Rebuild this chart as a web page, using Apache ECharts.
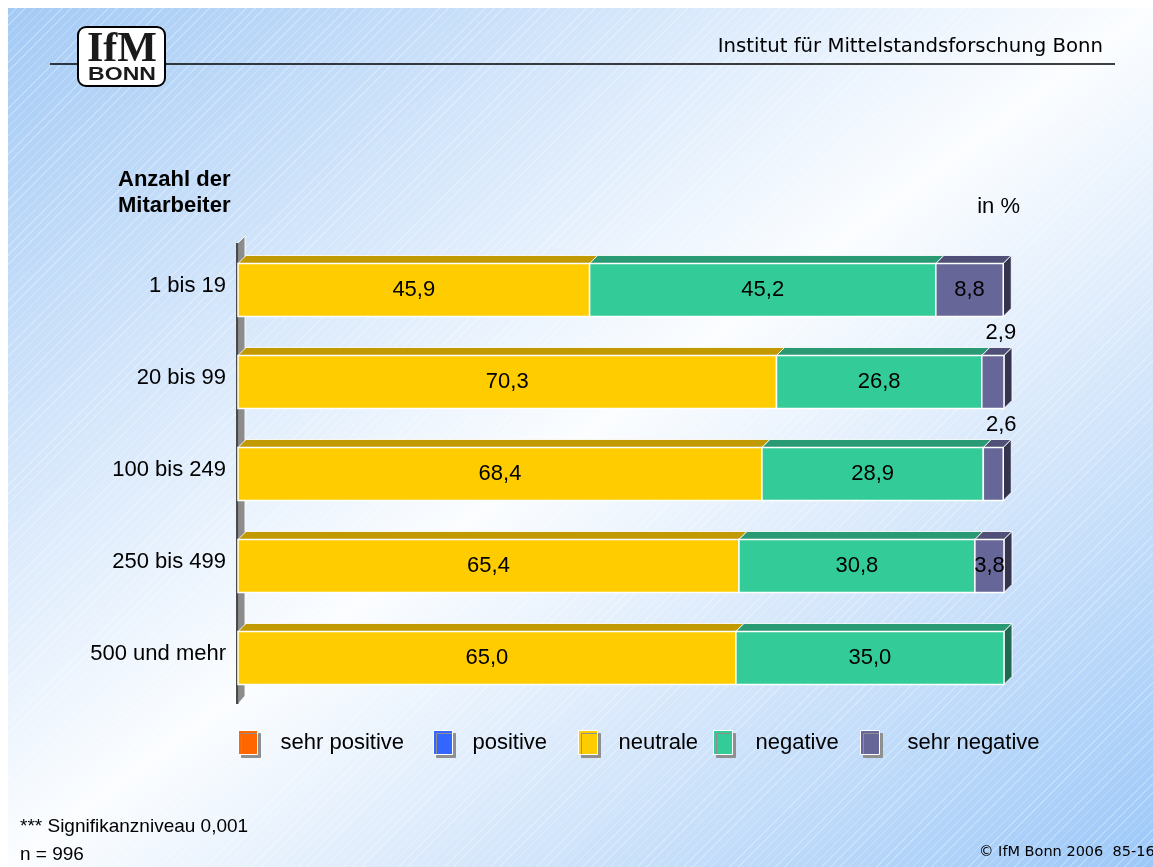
<!DOCTYPE html>
<html>
<head>
<meta charset="utf-8">
<script src="https://cdn.jsdelivr.net/npm/echarts@6/dist/echarts.min.js"></script>
<style>
  html, body { margin: 0; padding: 0; background: #ffffff; }
  #bg {
    position: absolute; left: 8px; top: 8px; width: 1145px; height: 859px;
    background:
      repeating-linear-gradient(135deg, rgba(255,255,255,0) 0px, rgba(255,255,255,0) 5.5px, rgba(255,255,255,0.28) 5.5px, rgba(255,255,255,0.28) 6.5px),
      linear-gradient(to bottom right, #a3caf5 0%, #d6e7fb 28%, #fbfdff 50%, #d6e7fb 70%, #9cc8f8 100%);
  }
  #chart { position: absolute; left: 0; top: 0; width: 1153px; height: 867px; }
</style>
</head>
<body>
<div id="bg"></div>
<div id="chart"></div>
<script>
// ---- data ----
const categories = ['1 bis 19', '20 bis 99', '100 bis 249', '250 bis 499', '500 und mehr'];
const seriesNames = ['sehr positive', 'positive', 'neutrale', 'negative', 'sehr negative'];
const sehrPositive = [0, 0, 0, 0, 0];
const positive = [0, 0, 0, 0, 0];
const neutrale = [45.9, 70.3, 68.4, 65.4, 65.0];
const negative = [45.2, 26.8, 28.9, 30.8, 35.0];
const sehrNegative = [8.8, 2.9, 2.6, 3.8, 0];
const valueArrays = [sehrPositive, positive, neutrale, negative, sehrNegative];

// ---- styles ----
const frontColors = ['#ff6600', '#3366ff', '#ffcc00', '#33cc99', '#666699'];
const topColors   = ['#c24d00', '#2650c0', '#c09a00', '#2a9a74', '#4f4f78'];
const sideColors  = ['#8a3700', '#1a3890', '#8a6e00', '#1f6b52', '#34344f'];
const legendPos = [
  {left: 238, pad: 18},
  {left: 433, pad: 15},
  {left: 578, pad: 16},
  {left: 713, pad: 18},
  {left: 860, pad: 23}
];

function fmt(v) { return v.toFixed(1).replace('.', ','); }

function buildData(si) {
  return categories.map(function (c, ci) {
    let start = 0;
    for (let k = 0; k < si; k++) start += valueArrays[k][ci];
    const v = valueArrays[si][ci];
    let last = 1;
    for (let k = si + 1; k < valueArrays.length; k++) if (valueArrays[k][ci] > 0) last = 0;
    return [start, start + v, ci, v, last];
  });
}

function makeRender(si) {
  return function (params, api) {
    const v = api.value(3);
    if (!(v > 0)) return null;
    const p0 = api.coord([api.value(0), api.value(2)]);
    const p1 = api.coord([api.value(1), api.value(2)]);
    const band = api.size([0, 1])[1];
    const h = band * 0.576;
    const d = band * 0.087;
    const x0 = p0[0], x1 = p1[0];
    const yT = p0[1] - h / 2, yB = p0[1] + h / 2;
    const children = [];
    children.push({
      type: 'polygon',
      shape: {points: [[x0, yT], [x0 + d, yT - d], [x1 + d, yT - d], [x1, yT]]},
      style: {fill: topColors[si], stroke: 'rgba(255,255,255,0.85)', lineWidth: 1}
    });
    if (api.value(4) === 1) {
      children.push({
        type: 'polygon',
        shape: {points: [[x1, yT], [x1 + d, yT - d], [x1 + d, yB - d], [x1, yB]]},
        style: {fill: sideColors[si], stroke: 'rgba(255,255,255,0.85)', lineWidth: 1}
      });
    }
    children.push({
      type: 'rect',
      shape: {x: x0, y: yT, width: x1 - x0, height: h},
      style: {fill: frontColors[si], stroke: '#ffffff', lineWidth: 1.5}
    });
    const small = v < 3;
    children.push({
      type: 'text',
      style: {
        text: fmt(v),
        x: small ? (x0 + x1) / 2 + d : (x0 + x1) / 2,
        y: small ? yT - d - 15 : p0[1],
        textAlign: 'center',
        textVerticalAlign: 'middle',
        fontFamily: 'Liberation Sans, Arial, sans-serif',
        fontSize: 22,
        fill: '#000'
      }
    });
    return {type: 'group', children: children};
  };
}

const series = [{
  type: 'custom',
  name: '__wall',
  silent: true,
  z: 1,
  data: [[0, 0]],
  encode: {x: 0, y: 1},
  renderItem: function (params, api) {
    const cs = params.coordSys;
    const x = cs.x, top = cs.y - 1, bot = cs.y + cs.height;
    return {
      type: 'group',
      children: [
        {type: 'polygon', shape: {points: [[x, top], [x + 7, top - 7], [x + 7, bot - 8], [x, bot]]},
         style: {fill: '#8c8c8c', stroke: 'rgba(255,255,255,0.9)', lineWidth: 1}},
        {type: 'rect', shape: {x: x - 2, y: top, width: 2.5, height: bot - top},
         style: {fill: '#4a4a4a'}}
      ]
    };
  }
}];

seriesNames.forEach(function (name, si) {
  series.push({
    type: 'custom',
    name: name,
    z: 2,
    itemStyle: {color: frontColors[si]},
    dimensions: ['start', 'end', 'cat', 'value', 'last'],
    encode: {x: [0, 1], y: 2},
    data: buildData(si),
    renderItem: makeRender(si)
  });
});

const legends = seriesNames.map(function (name, i) {
  return {
    data: [name],
    left: legendPos[i].left,
    top: 730,
    padding: 0,
    orient: 'horizontal',
    icon: 'rect',
    itemWidth: 19,
    itemHeight: 24,
    selectedMode: false,
    itemStyle: {borderColor: '#ffffff', borderWidth: 1, shadowColor: '#8f8f8f', shadowOffsetX: 3, shadowOffsetY: 3, shadowBlur: 0},
    textStyle: {
      fontFamily: 'Liberation Sans, Arial, sans-serif',
      fontSize: 22,
      color: '#000',
      padding: name === 'neutrale' ? [0, 0, 5, legendPos[i].pad] : [0, 0, 0, legendPos[i].pad]
    }
  };
});

const chart = echarts.init(document.getElementById('chart'), null, {renderer: 'canvas'});
chart.setOption({
  backgroundColor: 'transparent',
  animation: false,
  grid: {left: 238, right: 149, top: 244, height: 460},
  xAxis: {type: 'value', min: 0, max: 100, show: false},
  yAxis: {
    type: 'category',
    data: categories,
    inverse: true,
    axisLine: {show: false},
    axisTick: {show: false},
    splitLine: {show: false},
    axisLabel: {
      margin: 12,
      fontFamily: 'Liberation Sans, Arial, sans-serif',
      fontSize: 22,
      color: '#000',
      verticalAlign: 'bottom',
      lineHeight: 8
    }
  },
  legend: legends,
  series: series,
  graphic: [
    {type: 'line', shape: {x1: 50, y1: 64, x2: 1115, y2: 64}, style: {stroke: '#000', lineWidth: 1.5}},
    {type: 'rect', shape: {x: 78, y: 27, width: 87, height: 59, r: 8}, style: {fill: '#ffffff', stroke: '#000', lineWidth: 2}},
    {type: 'text', style: {text: 'IfM', x: 122, y: 50, textAlign: 'center', textVerticalAlign: 'middle',
      fontFamily: 'Liberation Serif, Times New Roman, serif', fontWeight: 'bold', fontSize: 42, fill: '#1a1a1a'}},
    {type: 'text', x: 122, y: 75, scaleX: 1.28, style: {text: 'BONN', x: 0, y: 0, textAlign: 'center', textVerticalAlign: 'middle',
      fontFamily: 'Liberation Sans, Arial, sans-serif', fontWeight: 'bold', fontSize: 18, fill: '#1a1a1a'}},
    {type: 'text', style: {text: 'Institut für Mittelstandsforschung Bonn', x: 1103, y: 47, textAlign: 'right', textVerticalAlign: 'middle',
      fontFamily: 'DejaVu Sans, sans-serif', fontSize: 19.7, fill: '#000'}},
    {type: 'text', style: {text: 'Anzahl der\nMitarbeiter', x: 118, y: 193, textAlign: 'left', textVerticalAlign: 'middle',
      fontFamily: 'Liberation Sans, Arial, sans-serif', fontWeight: 'bold', fontSize: 22, lineHeight: 26, fill: '#000'}},
    {type: 'text', style: {text: 'in %', x: 1020, y: 207, textAlign: 'right', textVerticalAlign: 'middle',
      fontFamily: 'Liberation Sans, Arial, sans-serif', fontSize: 22, fill: '#000'}},
    {type: 'text', style: {text: '*** Signifikanzniveau 0,001', x: 20, y: 827, textAlign: 'left', textVerticalAlign: 'middle',
      fontFamily: 'Liberation Sans, Arial, sans-serif', fontSize: 19, fill: '#000'}},
    {type: 'text', style: {text: 'n = 996', x: 20, y: 855, textAlign: 'left', textVerticalAlign: 'middle',
      fontFamily: 'Liberation Sans, Arial, sans-serif', fontSize: 19, fill: '#000'}},
    {type: 'text', style: {text: '© IfM Bonn 2006  85-16', x: 979, y: 852, textAlign: 'left', textVerticalAlign: 'middle',
      fontFamily: 'DejaVu Sans, sans-serif', fontSize: 14.5, fill: '#000'}}
  ]
});
</script>
</body>
</html>
